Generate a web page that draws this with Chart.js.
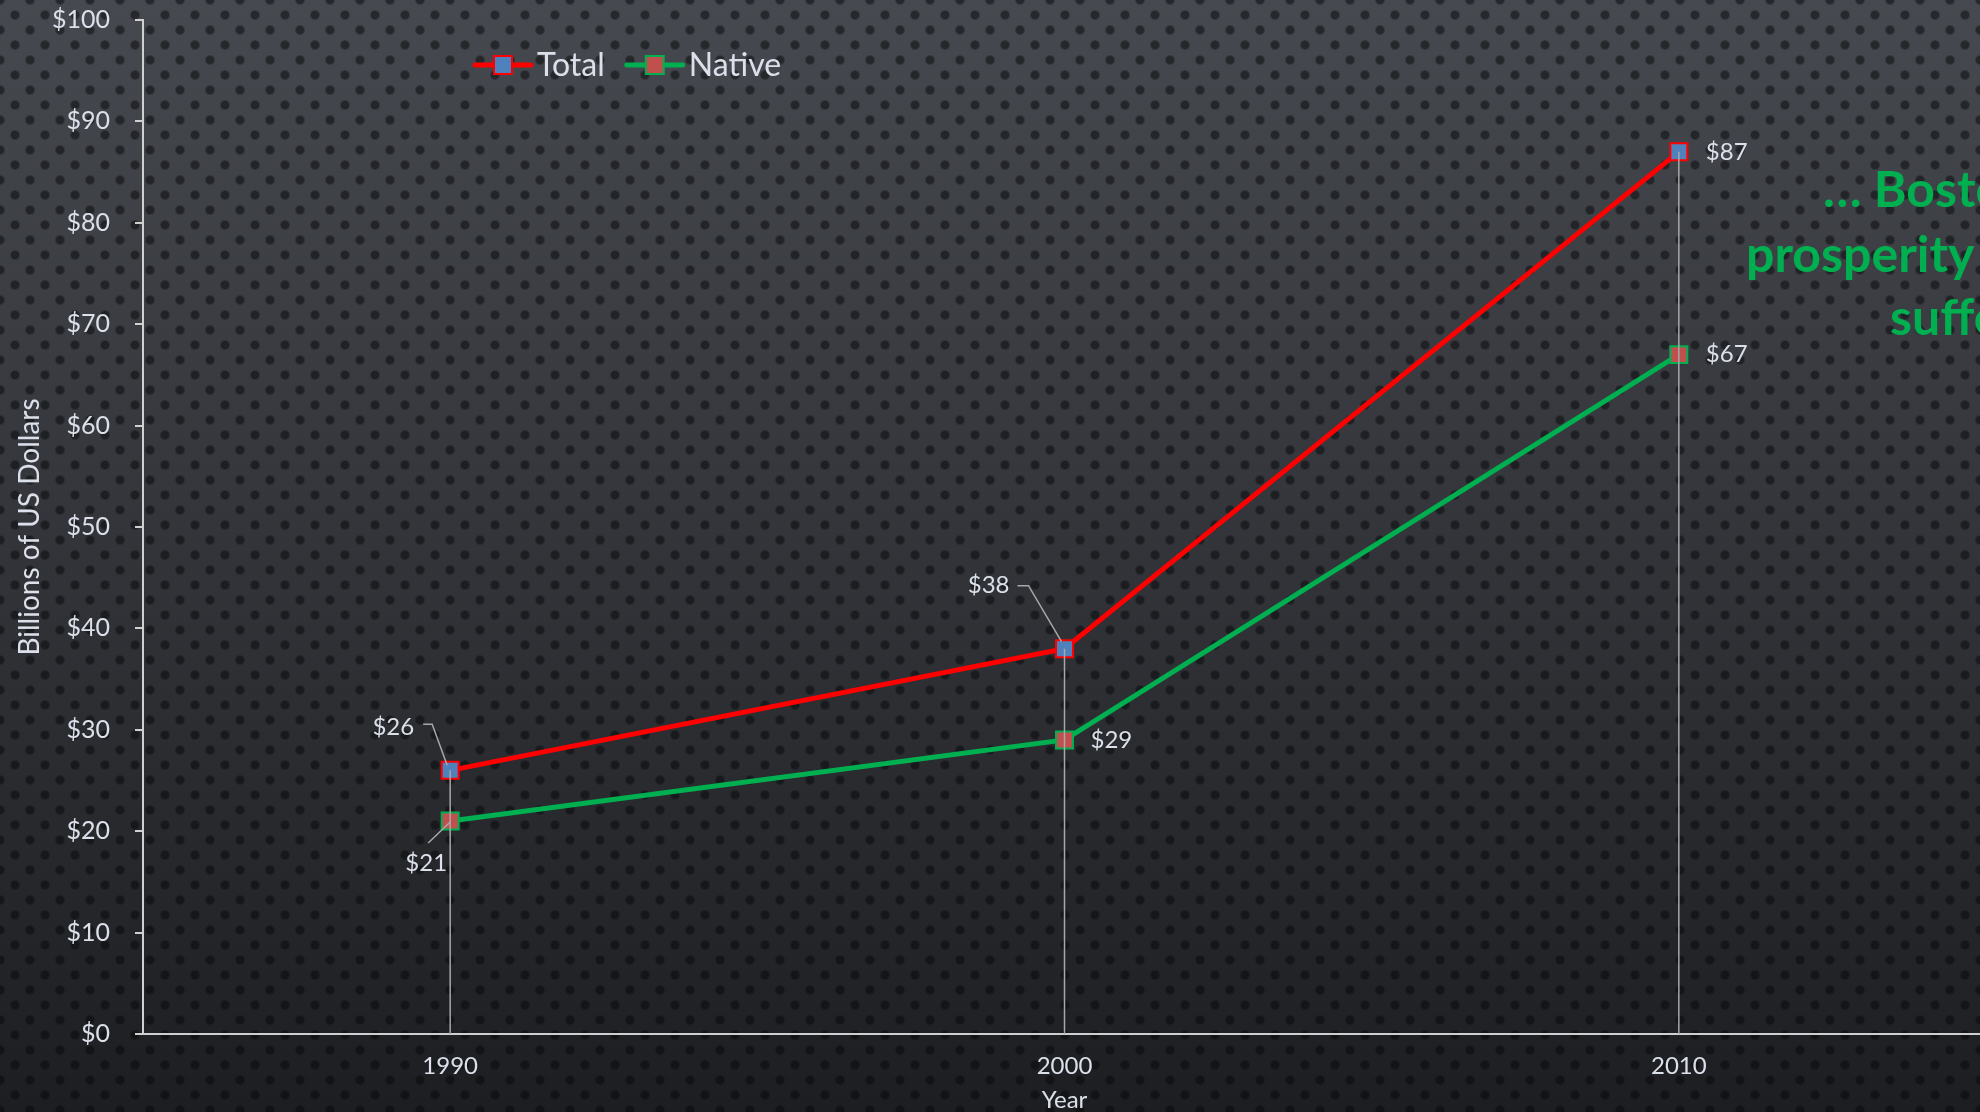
<!DOCTYPE html>
<html>
<head>
<meta charset="utf-8">
<title>Total vs Native</title>
<script src="https://cdn.jsdelivr.net/npm/chart.js@4.4.1/dist/chart.umd.min.js"></script>
<style>
  html, body { margin: 0; padding: 0; width: 1980px; height: 1112px; overflow: hidden; }
  body {
    background-color: #2c2e32;
    background-image:
      radial-gradient(circle, rgba(6,7,9,0.5) 0, rgba(6,7,9,0.5) 3.5px, rgba(6,7,9,0) 5.5px),
      radial-gradient(circle, rgba(6,7,9,0.5) 0, rgba(6,7,9,0.5) 3.5px, rgba(6,7,9,0) 5.5px),
      linear-gradient(to bottom, #46494f 0%, #34363b 45%, #1d1e21 100%);
    background-size: 30px 30px, 30px 30px, 100% 100%;
    background-position: 0 0, 15px 15px, 0 0;
  }
  #myChart { position: absolute; left: 0; top: 0; }
  .note { position: absolute; color: #00b050; font: bold 50px Lato, sans-serif; line-height: 60px; white-space: nowrap; }
</style>
</head>
<body>
<canvas id="myChart" width="2000" height="1112"></canvas>
<div class="note" style="left:1823px; top:158px;">… Boston's</div>
<div class="note" style="left:1746px; top:223px;">prosperity has</div>
<div class="note" style="left:1890px; top:286px;">suffered</div>

<script>
// Dados do gráfico
const years = ['1990', '2000', '2010'];
const totalValues = [26, 38, 87];
const nativeValues = [21, 29, 67];
const yTickValues = [0, 10, 20, 30, 40, 50, 60, 70, 80, 90, 100];

const textColor = '#dbe0ea';
const axisColor = '#d0d0d0';
const leaderColor = '#a8a8a8';
const fontFamily = 'Lato, "Open Sans", sans-serif';

// onde cada rótulo fica em relação ao ponto (dataset, índice)
const labelPlacement = [
  [
    { dx: -36, dy: -43, align: 'right', leader: [[-27, -46], [-18, -46], [-3, -5]] },
    { dx: -55, dy: -63, align: 'right', leader: [[-47, -63], [-36, -63], [-3, -7]] },
    { dx: 27, dy: 0, align: 'left' }
  ],
  [
    { dx: -24, dy: 42, align: 'center', leader: [[-22, 22], [0, 1]] },
    { dx: 26, dy: 0, align: 'left' },
    { dx: 27, dy: 0, align: 'left' }
  ]
];

// legenda, linhas verticais e rótulos
const overlay = {
  id: 'overlay',
  afterDatasetsDraw(chart) {
    const ctx = chart.ctx;
    const area = chart.chartArea;
    ctx.save();

    // linhas verticais a partir da série Total
    ctx.strokeStyle = leaderColor;
    ctx.lineWidth = 1.5;
    chart.getDatasetMeta(0).data.forEach(pt => {
      ctx.beginPath();
      ctx.moveTo(pt.x, pt.y);
      ctx.lineTo(pt.x, area.bottom);
      ctx.stroke();
    });

    // rótulos de valores
    ctx.font = '24px ' + fontFamily;
    ctx.fillStyle = textColor;
    ctx.textBaseline = 'middle';
    chart.data.datasets.forEach((ds, di) => {
      chart.getDatasetMeta(di).data.forEach((pt, i) => {
        const p = labelPlacement[di][i];
        if (p.leader) {
          ctx.beginPath();
          p.leader.forEach((l, k) => {
            if (k === 0) ctx.moveTo(pt.x + l[0], pt.y + l[1]);
            else ctx.lineTo(pt.x + l[0], pt.y + l[1]);
          });
          ctx.stroke();
        }
        ctx.textAlign = p.align;
        ctx.fillText('$' + ds.data[i], pt.x + p.dx, pt.y + p.dy);
      });
    });

    // legenda
    let x = 475;
    const y = 65;
    ctx.font = '32px ' + fontFamily;
    ctx.textAlign = 'left';
    chart.data.datasets.forEach(ds => {
      ctx.strokeStyle = ds.borderColor;
      ctx.lineWidth = 5;
      ctx.lineCap = 'round';
      ctx.beginPath();
      ctx.moveTo(x, y);
      ctx.lineTo(x + 56, y);
      ctx.stroke();
      ctx.fillStyle = ds.pointBackgroundColor;
      ctx.fillRect(x + 19, y - 9, 18, 18);
      ctx.lineWidth = 2;
      ctx.strokeStyle = ds.pointBorderColor;
      ctx.strokeRect(x + 19, y - 9, 18, 18);
      ctx.fillStyle = textColor;
      ctx.fillText(ds.label, x + 62, y + 1);
      x += 62 + ctx.measureText(ds.label).width + 22;
    });

    ctx.restore();
  }
};

const ctx = document.getElementById('myChart').getContext('2d');
const myChart = new Chart(ctx, {
  type: 'line',
  data: {
    labels: years,
    datasets: [{
      label: 'Total',
      data: totalValues,
      borderColor: '#ff0000',
      borderWidth: 5,
      pointStyle: 'rect',
      pointRadius: 12,
      pointBorderWidth: 2,
      pointBackgroundColor: '#4f81bd',
      pointBorderColor: '#ff0000',
      tension: 0
    }, {
      label: 'Native',
      data: nativeValues,
      borderColor: '#00b050',
      borderWidth: 5,
      pointStyle: 'rect',
      pointRadius: 12,
      pointBorderWidth: 2,
      pointBackgroundColor: '#c0504d',
      pointBorderColor: '#00b050',
      tension: 0
    }]
  },
  options: {
    responsive: false,
    animation: false,
    layout: { padding: { left: 0, top: 20, right: 5, bottom: 0 } },
    plugins: {
      legend: { display: false },
      tooltip: { enabled: false }
    },
    scales: {
      x: {
        offset: true,
        grid: { display: false },
        border: { display: true, color: axisColor, width: 2 },
        ticks: { color: textColor, font: { family: fontFamily, size: 24 }, padding: 10 },
        title: { display: true, text: 'Year', color: textColor, font: { family: fontFamily, size: 24 }, padding: { top: 0, bottom: -3 } },
        afterFit: scale => { scale.height = 78; scale.paddingLeft = 0; scale.paddingRight = 0; }
      },
      y: {
        min: 0,
        max: 100,
        afterBuildTicks: scale => { scale.ticks = yTickValues.map(v => ({ value: v })); },
        grid: { display: true, drawOnChartArea: false, drawTicks: true, tickLength: 8, color: axisColor, lineWidth: 2 },
        border: { display: true, color: axisColor, width: 2 },
        ticks: { color: textColor, font: { family: fontFamily, size: 25 }, padding: 25, callback: v => '$' + v },
        title: { display: true, text: 'Billions of US Dollars', color: textColor, font: { family: fontFamily, size: 28 }, padding: { top: 13, bottom: 0 } },
        afterFit: scale => { scale.width = 143; scale.paddingTop = 0; scale.paddingBottom = 0; }
      }
    }
  },
  plugins: [overlay]
});
</script>
</body>
</html>
